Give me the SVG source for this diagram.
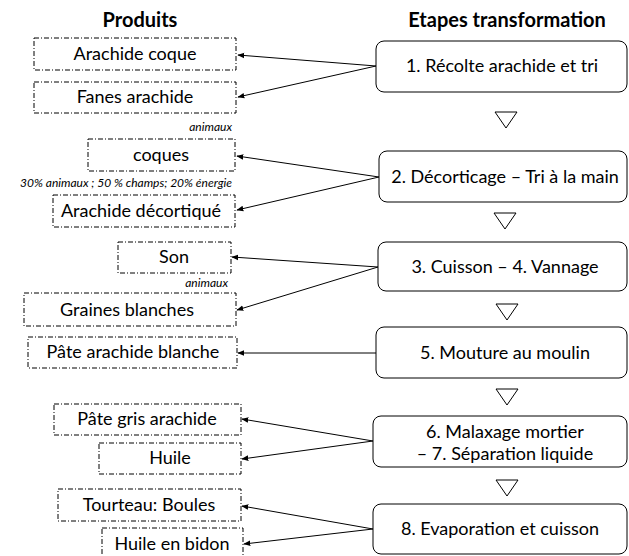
<svg xmlns="http://www.w3.org/2000/svg" width="629" height="556" viewBox="0 0 629 556">
<style>
text{font-family:Lato,"Liberation Sans",sans-serif;fill:#000}
.h{font-size:20px;font-weight:bold;text-anchor:middle}
.p{font-size:18px;text-anchor:middle}
.s{font-size:18px;text-anchor:middle}
.n{font-size:12px;font-style:italic;text-anchor:end}
.pb{fill:#fff;stroke:#000;stroke-width:1;stroke-dasharray:5 2 1 2}
.sb{fill:#fff;stroke:#000;stroke-width:1}
.tri{fill:#fff;stroke:#000;stroke-width:1}
.c{stroke:#000;stroke-width:1;fill:none;marker-end:url(#ah)}
</style>
<defs>
<marker id="ah" viewBox="0 0 10 10" refX="9" refY="5" markerWidth="7" markerHeight="7" markerUnits="userSpaceOnUse" orient="auto">
<path d="M0,1 L10,5 L0,9 z" fill="#000"/>
</marker>
</defs>
<rect width="629" height="556" fill="#fff"/>
<text class="h" x="140" y="27">Produits</text>
<text class="h" x="507" y="27">Etapes transformation</text>

<g id="connectors">
<line class="c" x1="376" y1="66" x2="238" y2="55"/>
<line class="c" x1="376" y1="66" x2="238" y2="97"/>
<line class="c" x1="379" y1="177" x2="237" y2="156"/>
<line class="c" x1="379" y1="177" x2="237" y2="210"/>
<line class="c" x1="378" y1="267" x2="232" y2="257"/>
<line class="c" x1="378" y1="267" x2="237" y2="310"/>
<line class="c" x1="376" y1="353" x2="238" y2="353"/>
<line class="c" x1="373" y1="441" x2="242" y2="419"/>
<line class="c" x1="373" y1="441" x2="242" y2="459"/>
<line class="c" x1="373" y1="529" x2="242" y2="506"/>
<line class="c" x1="373" y1="529" x2="244" y2="544"/>
</g>

<g id="step1"><rect class="sb" x="376" y="41" width="251" height="51" rx="8"/><text class="s" x="502" y="72">1. Récolte arachide et tri</text></g>
<g id="tri1"><path class="tri" d="M495,112 L517,112 L506,128 z"/></g>
<g id="step2"><rect class="sb" x="379" y="151" width="248" height="51" rx="8"/><text class="s" x="505" y="183">2. Décorticage – Tri à la main</text></g>
<g id="tri2"><path class="tri" d="M494,213 L516,213 L505,229 z"/></g>
<g id="step3"><rect class="sb" x="378" y="242" width="249" height="49" rx="8"/><text class="s" x="505" y="273">3. Cuisson – 4. Vannage</text></g>
<g id="tri3"><path class="tri" d="M496,304 L518,304 L507,320 z"/></g>
<g id="step5"><rect class="sb" x="376" y="327" width="251" height="51" rx="8"/><text class="s" x="505" y="359">5. Mouture au moulin</text></g>
<g id="tri4"><path class="tri" d="M496,389 L518,389 L507,405 z"/></g>
<g id="step6"><rect class="sb" x="373" y="416" width="254" height="51" rx="8"/><text class="s" x="505" y="438">6. Malaxage mortier</text><text class="s" x="505" y="460">–  7. Séparation liquide</text></g>
<g id="tri5"><path class="tri" d="M496,480 L518,480 L507,496 z"/></g>
<g id="step8"><rect class="sb" x="373" y="504" width="254" height="50" rx="8"/><text class="s" x="500" y="535">8. Evaporation et cuisson</text></g>

<g id="p1"><rect class="pb" x="34" y="38" width="202" height="32"/><text class="p" x="135" y="60">Arachide coque</text></g>
<g id="p2"><rect class="pb" x="34" y="82" width="202" height="31"/><text class="p" x="135" y="103">Fanes arachide</text></g>
<text class="n" x="232" y="131">animaux</text>
<g id="p3"><rect class="pb" x="88" y="139" width="147" height="32"/><text class="p" x="161" y="161">coques</text></g>
<text class="n" x="232" y="187">30% animaux ; 50 % champs; 20% énergie</text>
<g id="p4"><rect class="pb" x="53" y="195" width="182" height="32"/><text class="p" x="141" y="217">Arachide décortiqué</text></g>
<g id="p5"><rect class="pb" x="118" y="242" width="113" height="31"/><text class="p" x="174" y="263">Son</text></g>
<text class="n" x="228" y="287">animaux</text>
<g id="p6"><rect class="pb" x="24" y="293" width="212" height="33"/><text class="p" x="127" y="316">Graines blanches</text></g>
<g id="p7"><rect class="pb" x="28" y="337" width="209" height="31"/><text class="p" x="133" y="358">Pâte arachide blanche</text></g>
<g id="p8"><rect class="pb" x="54" y="404" width="187" height="31"/><text class="p" x="147" y="425">Pâte gris arachide</text></g>
<g id="p9"><rect class="pb" x="99" y="443" width="142" height="31"/><text class="p" x="170" y="464">Huile</text></g>
<g id="p10"><rect class="pb" x="58" y="489" width="183" height="32"/><text class="p" x="149" y="511">Tourteau: Boules</text></g>
<g id="p11"><rect class="pb" x="102" y="528" width="141" height="32"/><text class="p" x="172" y="550">Huile en bidon</text></g>
</svg>
